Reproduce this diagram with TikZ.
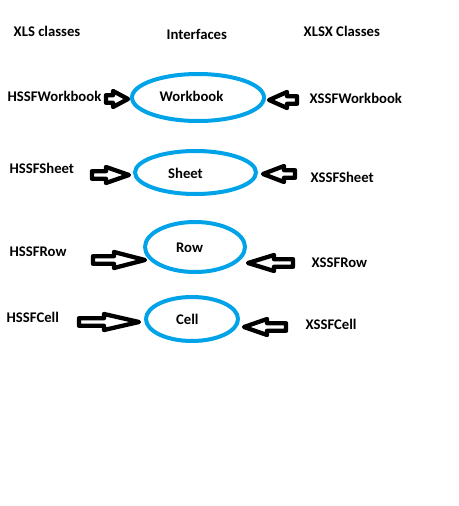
\documentclass[tikz,border=0pt]{standalone}
\usepackage{fontspec}
\setmainfont{Carlito}
\usetikzlibrary{calc,shapes.geometric}
\definecolor{paintblue}{HTML}{00A2E8}
\tikzset{
  classtext/.style={inner sep=0pt, anchor=west, font=\bfseries\fontsize{14.7}{17}\selectfont},
  iface/.style={ellipse, draw=paintblue, line width=4pt, inner sep=0pt},
  blockarrow/.style={draw=black, line width=4.3pt, line join=round, fill=white}
}
% hollow block arrow from #1 to #2, head length #3
\newcommand{\hollowarrow}[3]{%
  \draw [blockarrow] let \p1=(#1), \p2=(#2), \n1={ifthenelse(\x2>\x1,1,-1)*#3} in
    (\x1,\y1+3.8pt) -- (\x2-\n1,\y1+3.8pt) -- (\x2-\n1,\y1+8pt) -- (\x2,\y1)
    -- (\x2-\n1,\y1-8pt) -- (\x2-\n1,\y1-3.8pt) -- (\x1,\y1-3.8pt) -- cycle;}
\begin{document}
\begin{tikzpicture}[x=1pt,y=-1pt]
            \useasboundingbox (0,0) rectangle (458,506);

            % Column heads
            \node [classtext] (xlshead) at (13.5,31) {XLS classes};%
            \node [classtext] (ifhead) at (166.5,34) {Interfaces};%
            \node [classtext] (xlsxhead) at (303.5,31) {XLSX Classes};%

            % Interfaces
            \node [iface, minimum width=132, minimum height=47] (wb) at (198.0,97.5) {};%
            \node [classtext] (wbtext) at (159.5,96) {Workbook};%
            \node [iface, minimum width=121, minimum height=43] (sheet) at (195.5,172.5) {};%
            \node [classtext] (sheettext) at (168.0,173) {Sheet};%
            \node [iface, minimum width=100, minimum height=50] (row) at (195.0,247.0) {};%
            \node [classtext] (rowtext) at (176.0,248) {Row};%
            \node [iface, minimum width=92, minimum height=44] (cell) at (192.0,319.0) {};%
            \node [classtext] (celltext) at (176.0,319) {Cell};%

            % XLS classes
            \node [classtext] (hwb) at (7.5,96) {HSSFWorkbook};%
            \node [classtext] (hsheet) at (9.5,168) {HSSFSheet};%
            \node [classtext] (hrow) at (9.5,252) {HSSFRow};%
            \node [classtext] (hcell) at (6.5,317) {HSSFCell};%

            % XLSX classes
            \node [classtext] (xwb) at (309.5,98) {XSSFWorkbook};%
            \node [classtext] (xsheet) at (310.5,177) {XSSFSheet};%
            \node [classtext] (xrow) at (311.5,263) {XSSFRow};%
            \node [classtext] (xcell) at (305.5,324) {XSSFCell};%

            % Arrow tails
            \coordinate (hwbtail) at (106,99);%
            \coordinate (xwbtail) at (297,100);%
            \coordinate (hsheettail) at (92,175);%
            \coordinate (xsheettail) at (295,174);%
            \coordinate (hrowtail) at (93,260);%
            \coordinate (xrowtail) at (293,263);%
            \coordinate (hcelltail) at (79,322);%
            \coordinate (xcelltail) at (286,327);%

            % Drawing arrows class -> interface
            \hollowarrow{hwbtail}{[xshift=-2pt]wb.west}{15pt}%
            \hollowarrow{xwbtail}{[xshift=3pt]wb.east}{18pt}%
            \hollowarrow{hsheettail}{[xshift=-4pt]sheet.west}{23pt}%
            \hollowarrow{xsheettail}{[xshift=5pt]sheet.east}{21pt}%
            \hollowarrow{hrowtail}{[xshift=2pt]row.west}{31pt}%
            \hollowarrow{xrowtail}{[xshift=1pt]row.east}{26pt}%
            \hollowarrow{hcelltail}{[xshift=-5pt]cell.west}{35pt}%
            \hollowarrow{xcelltail}{[xshift=4pt]cell.east}{23pt}%
\end{tikzpicture}
\end{document}
